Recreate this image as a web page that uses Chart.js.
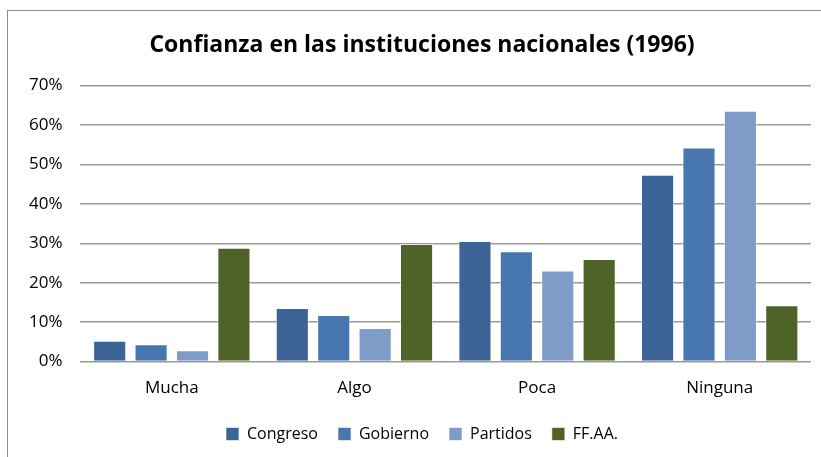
<!DOCTYPE html>
<html>
<head>
<meta charset="utf-8">
<script src="https://cdn.jsdelivr.net/npm/chart.js@4.4.1/dist/chart.umd.min.js"></script>
<style>
  html, body { margin: 0; padding: 0; background: #fff; }
  #wrap { position: relative; width: 821px; height: 457px; overflow: hidden; }
  #marco { position: absolute; left: 7px; top: 10px; width: 840px; height: 470px;
           border: 1px solid #8c8c8c; box-sizing: border-box; }
  #grafico { position: absolute; left: 0; top: 0; }
</style>
</head>
<body>
<div id="wrap">
  <div id="marco"></div>
  <!-- el gráfico original está recortado por la derecha: lienzo más ancho -->
  <canvas id="grafico" width="845" height="457"></canvas>
</div>
<script>
// ---- datos ----
const categorias = ['Mucha', 'Algo', 'Poca', 'Ninguna'];
const congreso   = [0.053, 0.136, 0.306, 0.474];
const gobierno   = [0.044, 0.118, 0.280, 0.543];
const partidos   = [0.029, 0.085, 0.231, 0.636];
const ffaa       = [0.289, 0.298, 0.260, 0.143];
const ticksY     = [0, 0.1, 0.2, 0.3, 0.4, 0.5, 0.6, 0.7];

// ---- colores ----
const AZUL_OSC = '#3D6496';
const AZUL     = '#4877B0';
const AZUL_CLA = '#7F9CC8';
const VERDE    = '#4F6228';
const FUENTE   = "'Open Sans', sans-serif";

function serie(label, data, color) {
  return {
    label, data,
    backgroundColor: color,
    borderColor: 'rgba(255,255,255,0.6)',
    borderWidth: 1,
    categoryPercentage: 0.907,
    barPercentage: 0.8
  };
}

new Chart(document.getElementById('grafico'), {
  type: 'bar',
  data: {
    labels: categorias,
    datasets: [
      serie('Congreso', congreso, AZUL_OSC),
      serie('Gobierno', gobierno, AZUL),
      serie('Partidos', partidos, AZUL_CLA),
      serie('FF.AA.',   ffaa,     VERDE)
    ]
  },
  options: {
    responsive: false,
    animation: false,
    layout: { padding: { left: 11, right: 12, top: 28, bottom: 5 } },
    plugins: {
      title: {
        display: true,
        text: 'Confianza en las instituciones nacionales (1996)',
        color: '#000',
        font: { family: FUENTE, size: 23, weight: 'bold' },
        padding: { top: 4, bottom: 26 }
      },
      legend: {
        position: 'bottom',
        labels: {
          color: '#000',
          font: { family: FUENTE, size: 16 },
          boxWidth: 13, boxHeight: 13,
          padding: 20
        }
      },
      tooltip: { enabled: false }
    },
    scales: {
      x: {
        grid: { display: false },
        border: { display: false },
        ticks: { color: '#000', font: { family: FUENTE, size: 17 }, padding: 8 }
      },
      y: {
        min: 0, max: 0.7,
        afterBuildTicks: ax => { ax.ticks = ticksY.map(v => ({ value: v })); },
        grid: { color: '#999', lineWidth: 1.5, drawTicks: false },
        border: { display: false },
        ticks: {
          color: '#000',
          font: { family: FUENTE, size: 17 },
          padding: 18,
          callback: v => Math.round(v * 100) + '%'
        }
      },
      // margen derecho vacío (sin marcas)
      derecha: {
        type: 'linear',
        position: 'right',
        grid: { display: false },
        border: { display: false },
        ticks: { display: false },
        afterFit: ax => { ax.width = 22; }
      }
    }
  }
});
</script>
</body>
</html>
